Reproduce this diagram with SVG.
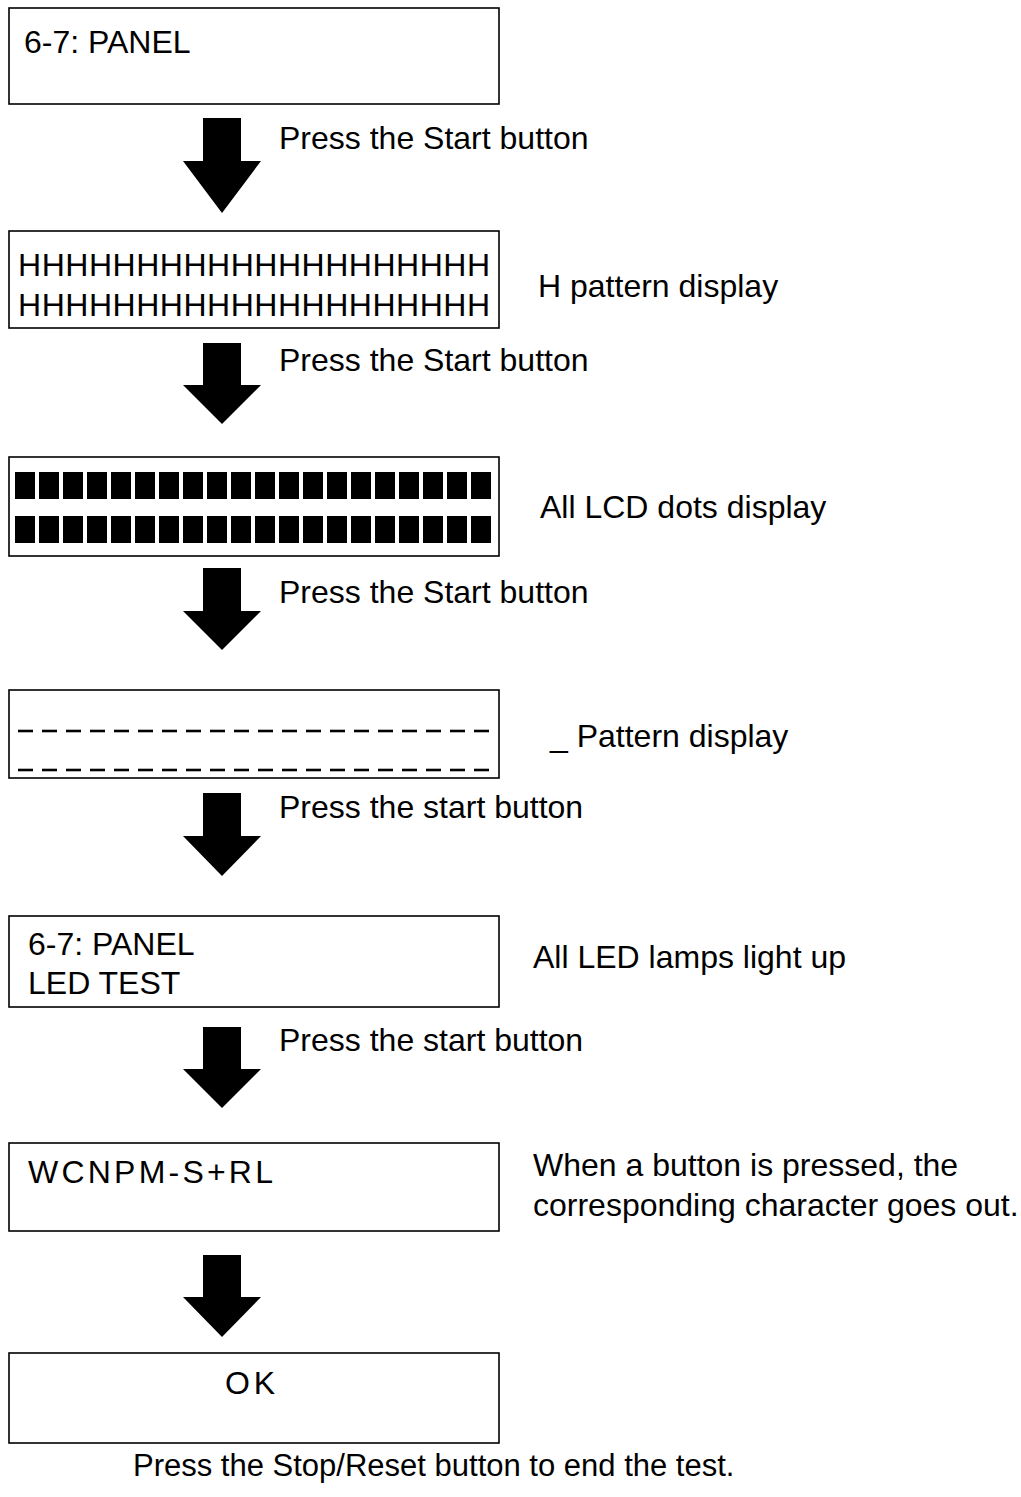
<svg xmlns="http://www.w3.org/2000/svg" width="1021" height="1497" viewBox="0 0 1021 1497">
<style>
.box{fill:#fff;stroke:#000;stroke-width:1.6}
.t{font-family:"Liberation Sans",Arial,sans-serif;font-size:32px;fill:#000}
.arr{fill:#000}
.blk{fill:#000}
.dash{stroke:#000;stroke-width:2.6}
</style>
<defs>
<rect id="b" width="20" height="27" class="blk"/>
<line id="d" x1="0" y1="0" x2="15" y2="0" class="dash"/>
</defs>
<rect width="1021" height="1497" fill="#fff"/>

<g id="n1">
<rect class="box" x="9" y="8" width="490" height="96"/>
<text class="t" x="24" y="53">6-7: PANEL</text>
</g>

<g id="n2">
<rect class="box" x="9" y="231" width="490" height="97"/>
<text class="t" x="18" y="276" textLength="472" lengthAdjust="spacing">HHHHHHHHHHHHHHHHHHHH</text>
<text class="t" x="18" y="316" textLength="472" lengthAdjust="spacing">HHHHHHHHHHHHHHHHHHHH</text>
<text class="t" x="538" y="297">H pattern display</text>
</g>

<g id="n3">
<rect class="box" x="9" y="457" width="490" height="99"/>
<g id="row1">
<use href="#b" x="15" y="472"/><use href="#b" x="39" y="472"/><use href="#b" x="63" y="472"/><use href="#b" x="87" y="472"/><use href="#b" x="111" y="472"/>
<use href="#b" x="135" y="472"/><use href="#b" x="159" y="472"/><use href="#b" x="183" y="472"/><use href="#b" x="207" y="472"/><use href="#b" x="231" y="472"/>
<use href="#b" x="255" y="472"/><use href="#b" x="279" y="472"/><use href="#b" x="303" y="472"/><use href="#b" x="327" y="472"/><use href="#b" x="351" y="472"/>
<use href="#b" x="375" y="472"/><use href="#b" x="399" y="472"/><use href="#b" x="423" y="472"/><use href="#b" x="447" y="472"/><use href="#b" x="471" y="472"/>
</g>
<use href="#row1" y="44"/>
<text class="t" x="540" y="518">All LCD dots display</text>
</g>

<g id="n4">
<rect class="box" x="9" y="690" width="490" height="88"/>
<g id="drow">
<use href="#d" x="18" y="731"/><use href="#d" x="42" y="731"/><use href="#d" x="66" y="731"/><use href="#d" x="90" y="731"/><use href="#d" x="114" y="731"/>
<use href="#d" x="138" y="731"/><use href="#d" x="162" y="731"/><use href="#d" x="186" y="731"/><use href="#d" x="210" y="731"/><use href="#d" x="234" y="731"/>
<use href="#d" x="258" y="731"/><use href="#d" x="282" y="731"/><use href="#d" x="306" y="731"/><use href="#d" x="330" y="731"/><use href="#d" x="354" y="731"/>
<use href="#d" x="378" y="731"/><use href="#d" x="402" y="731"/><use href="#d" x="426" y="731"/><use href="#d" x="450" y="731"/><use href="#d" x="474" y="731"/>
</g>
<use href="#drow" y="39"/>
<text class="t" x="550" y="747">_ Pattern display</text>
</g>

<g id="n5">
<rect class="box" x="9" y="916" width="490" height="91"/>
<text class="t" x="28" y="955">6-7: PANEL</text>
<text class="t" x="28" y="994">LED TEST</text>
<text class="t" x="533" y="968">All LED lamps light up</text>
</g>

<g id="n6">
<rect class="box" x="9" y="1143" width="490" height="88"/>
<text class="t" x="28" y="1183" textLength="245" lengthAdjust="spacing">WCNPM-S+RL</text>
<text class="t" x="533" y="1176">When a button is pressed, the</text>
<text class="t" x="533" y="1216">corresponding character goes out.</text>
</g>

<g id="n7">
<rect class="box" x="9" y="1353" width="490" height="90"/>
<text class="t" x="225" y="1394" textLength="50" lengthAdjust="spacing">OK</text>
</g>

<text class="t" x="133" y="1476" style="font-size:31px">Press the Stop/Reset button to end the test.</text>

<g id="connectors">
<path class="arr" d="M203 118 H241 V161 H261 L222 213 L183 161 H203 Z"/>
<text class="t" x="279" y="149">Press the Start button</text>
<path class="arr" d="M203 343 H241 V385 H261 L222 424 L183 385 H203 Z"/>
<text class="t" x="279" y="371">Press the Start button</text>
<path class="arr" d="M203 568 H241 V611 H261 L222 650 L183 611 H203 Z"/>
<text class="t" x="279" y="603">Press the Start button</text>
<path class="arr" d="M203 793 H241 V836 H261 L222 876 L183 836 H203 Z"/>
<text class="t" x="279" y="818">Press the start button</text>
<path class="arr" d="M203 1027 H241 V1069 H261 L222 1108 L183 1069 H203 Z"/>
<text class="t" x="279" y="1051">Press the start button</text>
<path class="arr" d="M203 1255 H241 V1297 H261 L222 1337 L183 1297 H203 Z"/>
</g>
</svg>
